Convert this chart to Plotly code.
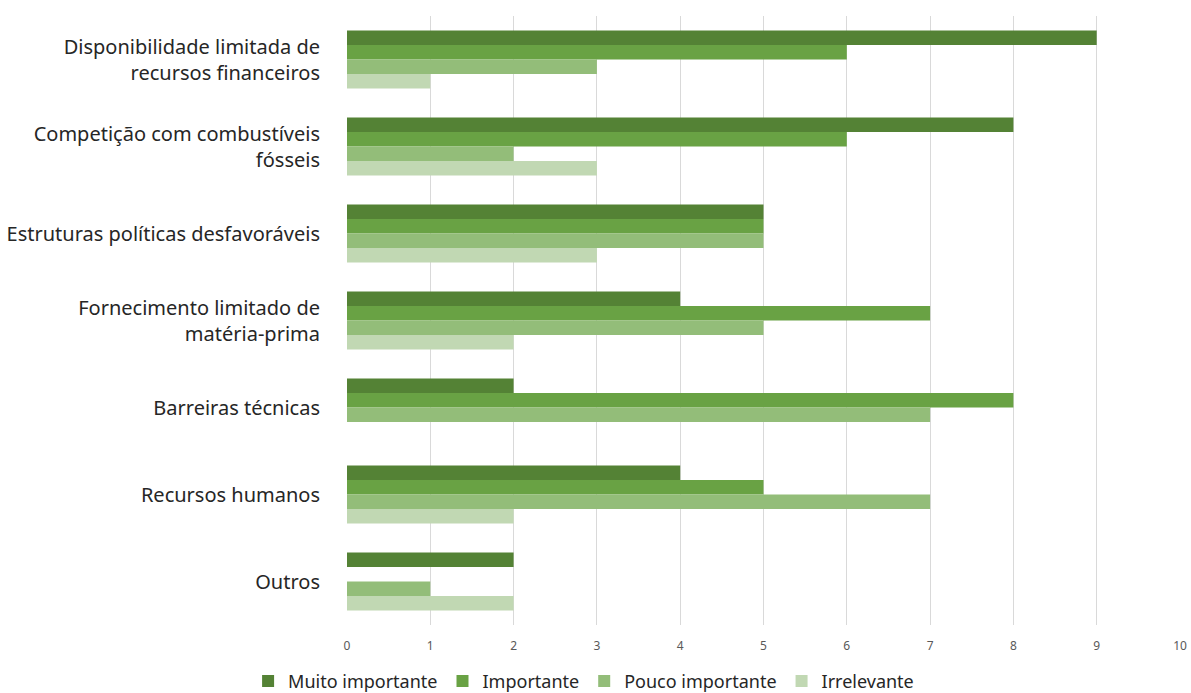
import plotly.graph_objects as go

categories = [
    "Disponibilidade limitada de<br>recursos financeiros",
    "Competição com combustíveis<br>fósseis",
    "Estruturas políticas desfavoráveis",
    "Fornecimento limitado de<br>matéria-prima",
    "Barreiras técnicas",
    "Recursos humanos",
    "Outros",
]

series_names = ["Muito importante", "Importante", "Pouco importante", "Irrelevante"]
muito_importante = [9, 8, 5, 4, 2, 4, 2]
importante = [6, 6, 5, 7, 8, 5, 0]
pouco_importante = [3, 2, 5, 5, 7, 7, 1]
irrelevante = [1, 3, 3, 2, 0, 2, 2]

series_values = [muito_importante, importante, pouco_importante, irrelevante]
colors = ["#548235", "#69a244", "#93bd79", "#c1d8b3"]

x_ticks = list(range(0, 11))

fig = go.Figure()
for name, vals, col in zip(series_names, series_values, colors):
    fig.add_trace(go.Bar(
        y=categories,
        x=vals,
        name=name,
        orientation="h",
        marker=dict(color=col, line=dict(width=0)),
    ))

fig.update_layout(
    barmode="group",
    bargap=0.333,
    bargroupgap=0,
    width=1191,
    height=693,
    margin=dict(l=347, r=11, t=16, b=68, autoexpand=False),
    plot_bgcolor="white",
    paper_bgcolor="white",
    font=dict(family="Noto Sans, Open Sans, sans-serif", color="#262626"),
    legend=dict(
        orientation="h",
        xref="container", yref="paper",
        x=0.49, y=-0.062,
        xanchor="center", yanchor="top",
        font=dict(size=18, color="#262626"),
        traceorder="normal",
        itemwidth=30,
        tracegroupgap=0,
    ),
    xaxis=dict(
        range=[0, 10],
        tickvals=x_ticks,
        showgrid=True,
        gridcolor="#d9d9d9",
        gridwidth=1,
        zeroline=False,
        showline=False,
        automargin=False,
        tickfont=dict(size=12, color="#595959"),
        ticks="",
        ticklabelstandoff=12,
    ),
    yaxis=dict(
        autorange="reversed",
        showgrid=False,
        zeroline=False,
        showline=False,
        automargin=False,
        ticks="",
        tickfont=dict(size=20, color="#262626"),
        ticklabelstandoff=26,
    ),
)

fig.write_html("out.html")
